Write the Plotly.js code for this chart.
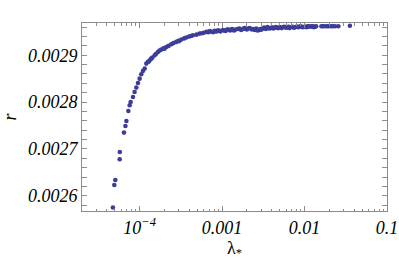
<!DOCTYPE html>
<html>
<head>
<meta charset="utf-8">
<script src="https://cdn.plot.ly/plotly-3.0.1.min.js"></script>
<style>html,body{margin:0;padding:0;background:#fff;}#chart{width:399px;height:264px;}</style>
</head>
<body>
<div id="chart"></div>
<script>
// lambda_* values (x) and r values (y)
const lambdaStar = [
  4.74e-5, 4.93e-5, 5.07e-5, 5.73e-5, 5.75e-5, 6.46e-5, 6.72e-5, 6.91e-5,
  7.30e-5, 7.57e-5, 7.78e-5, 8.30e-5, 8.69e-5, 9.12e-5, 9.55e-5, 1.00e-4,
  1.047e-4, 1.096e-4, 1.151e-4, 1.205e-4, 1.262e-4, 1.30e-4, 1.35e-4, 1.384e-4,
  1.43e-4, 1.521e-4, 1.585e-4, 1.667e-4, 1.74e-4, 1.832e-4, 1.95e-4, 2.00e-4,
  2.104e-4, 2.24e-4, 2.421e-4, 2.57e-4, 2.78e-4, 2.95e-4, 3.00e-4, 3.20e-4,
  3.47e-4, 3.68e-4, 3.98e-4, 4.20e-4, 4.43e-4, 4.90e-4, 5.33e-4, 6.00e-4,
  6.46e-4, 7.24e-4, 7.80e-4, 8.13e-4, 9.12e-4, 9.50e-4, 1.023e-3, 1.10e-3,
  1.15e-3, 1.25e-3, 1.32e-3, 1.40e-3, 1.45e-3, 1.62e-3, 1.70e-3, 1.86e-3,
  2.00e-3, 2.14e-3, 2.30e-3, 2.40e-3, 2.50e-3, 2.63e-3, 2.70e-3, 2.82e-3,
  2.95e-3, 3.00e-3, 3.24e-3, 3.40e-3, 3.55e-3, 3.80e-3, 3.98e-3, 4.20e-3,
  4.47e-3, 4.80e-3, 5.01e-3, 5.30e-3, 5.62e-3, 6.00e-3, 6.31e-3, 6.60e-3,
  7.08e-3, 7.50e-3, 7.94e-3, 8.40e-3, 8.91e-3, 9.50e-3, 1.00e-2, 1.06e-2,
  1.122e-2, 1.18e-2, 1.259e-2, 1.30e-2, 1.38e-2, 1.66e-2, 1.86e-2, 2.09e-2,
  2.34e-2, 2.57e-2, 3.55e-2,
  5.70e-4, 6.80e-4, 7.00e-4, 8.50e-4, 8.80e-4, 1.05e-3, 1.20e-3, 1.35e-3,
  1.55e-3, 1.80e-3, 1.95e-3, 2.20e-3, 2.60e-3, 2.90e-3, 3.10e-3, 3.30e-3,
  3.65e-3, 4.10e-3, 4.60e-3, 5.15e-3, 5.80e-3, 6.45e-3, 7.30e-3, 8.10e-3,
  8.70e-3, 9.20e-3, 1.03e-2, 1.10e-2, 1.22e-2, 1.34e-2, 1.60e-2, 1.75e-2,
  1.95e-2, 2.20e-2
];
const rValues = [
  0.0025750, 0.0026229, 0.0026335, 0.0026778, 0.0026934, 0.0027348, 0.0027489, 0.0027596,
  0.0027810, 0.0027932, 0.0028002, 0.0028109, 0.0028216, 0.0028309, 0.0028409, 0.0028501,
  0.0028594, 0.0028665, 0.0028715, 0.0028822, 0.0028858, 0.0028870, 0.0028910, 0.0028929,
  0.0028950, 0.0029000, 0.0029030, 0.0029071, 0.0029100, 0.0029121, 0.0029150, 0.0029140,
  0.0029178, 0.0029200, 0.0029235, 0.0029260, 0.0029285, 0.0029310, 0.0029300, 0.0029335,
  0.0029360, 0.0029378, 0.0029400, 0.0029410, 0.0029427, 0.0029440, 0.0029463, 0.0029480,
  0.0029500, 0.0029510, 0.0029490, 0.0029520, 0.0029530, 0.0029510, 0.0029540, 0.0029520,
  0.0029550, 0.0029530, 0.0029560, 0.0029530, 0.0029550, 0.0029570, 0.0029540, 0.0029580,
  0.0029550, 0.0029580, 0.0029550, 0.0029560, 0.0029540, 0.0029550, 0.0029530, 0.0029540,
  0.0029550, 0.0029550, 0.0029590, 0.0029560, 0.0029600, 0.0029570, 0.0029590, 0.0029570,
  0.0029600, 0.0029580, 0.0029600, 0.0029580, 0.0029610, 0.0029590, 0.0029600, 0.0029580,
  0.0029610, 0.0029590, 0.0029610, 0.0029600, 0.0029620, 0.0029600, 0.0029610, 0.0029600,
  0.0029620, 0.0029610, 0.0029620, 0.0029600, 0.0029620, 0.0029620, 0.0029620, 0.0029620,
  0.0029620, 0.0029620, 0.0029630,
  0.0029470, 0.0029490, 0.0029510, 0.0029510, 0.0029530, 0.0029530, 0.0029550, 0.0029540,
  0.0029560, 0.0029560, 0.0029570, 0.0029570, 0.0029570, 0.0029560, 0.0029570, 0.0029570,
  0.0029580, 0.0029590, 0.0029590, 0.0029590, 0.0029600, 0.0029610, 0.0029600, 0.0029610,
  0.0029610, 0.0029610, 0.0029610, 0.0029620, 0.0029620, 0.0029610, 0.0029620, 0.0029620,
  0.0029620, 0.0029620
];
const xMajorTicks = [1e-4, 1e-3, 1e-2, 1e-1];
const xMajorLabels = ['10<sup>\u22124</sup>', '0.001', '0.01', '0.1'];
const xMinorTicks = [];
[1e-5, 1e-4, 1e-3, 1e-2].forEach(d => { for (let k = 2; k <= 9; k++) xMinorTicks.push(k * d); });
const yTicks = [0.0026, 0.0027, 0.0028, 0.0029];
const yLabels = ['0.0026', '0.0027', '0.0028', '0.0029'];

const frame = '#8c8c8c';
const tickFont = {family: 'Liberation Serif, Times New Roman, serif', size: 18, color: '#000'};

const traces = [
  {
    x: lambdaStar, y: rValues, type: 'scatter', mode: 'markers',
    marker: {color: 'rgb(61,61,153)', size: 4.6, line: {width: 0}},
    hoverinfo: 'skip'
  },
  {
    x: [1e-3], y: [null], xaxis: 'x2', yaxis: 'y', type: 'scatter', mode: 'markers',
    showlegend: false, hoverinfo: 'skip'
  }
];

const layout = {
  width: 399, height: 264,
  margin: {l: 82, r: 11.5, t: 22.7, b: 53, pad: 0},
  paper_bgcolor: '#fff', plot_bgcolor: '#fff',
  showlegend: false,
  xaxis: {
    type: 'log', range: [Math.log10(2.0e-5), -1],
    tickmode: 'array', tickvals: xMajorTicks, ticktext: xMajorLabels,
    ticks: 'inside', ticklen: 5, tickwidth: 1, tickcolor: frame,
    showline: true, linecolor: frame, linewidth: 1, mirror: 'allticks',
    showgrid: false, zeroline: false,
    tickfont: Object.assign({}, tickFont, {style: 'italic'}),
    title: {text: '\u03bb<sub>*</sub>', font: {family: 'Liberation Serif, serif', size: 18, color: '#000'}, standoff: 4}
  },
  xaxis2: {
    type: 'log', range: [Math.log10(2.0e-5), -1], overlaying: 'x', side: 'bottom',
    tickmode: 'array', tickvals: xMinorTicks, showticklabels: false,
    ticks: 'inside', ticklen: 2.5, tickwidth: 1, tickcolor: frame,
    showline: false, mirror: 'allticks', showgrid: false, zeroline: false
  },
  yaxis: {
    range: [0.0025674, 0.0029689],
    tickmode: 'array', tickvals: yTicks, ticktext: yLabels,
    ticks: 'inside', ticklen: 5, tickwidth: 1, tickcolor: frame,
    minor: {ticks: 'inside', dtick: 0.00002, tick0: 0, ticklen: 2.5, tickcolor: frame, showgrid: false},
    showline: true, linecolor: frame, linewidth: 1, mirror: 'allticks',
    showgrid: false, zeroline: false,
    tickfont: Object.assign({}, tickFont, {style: 'italic'}),
    title: {text: 'r', font: {family: 'Liberation Serif, serif', size: 18, color: '#000', style: 'italic'}, standoff: 6}
  }
};

Plotly.newPlot('chart', traces, layout, {staticPlot: true, displayModeBar: false});
</script>
</body>
</html>
